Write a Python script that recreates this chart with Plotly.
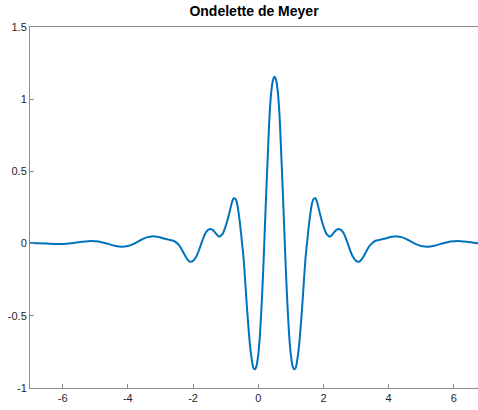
import plotly.graph_objects as go

# Sample positions (t) and wavelet values
t_vals = [
    -7.0, -6.5, -6.2, -6.0, -5.8, -5.6, -5.4, -5.2, -5.0, -4.8, -4.6, -4.4, -4.2, -4.0,
    -3.8, -3.6, -3.4, -3.25, -3.1, -3.0, -2.9, -2.8, -2.7, -2.6, -2.5, -2.4, -2.3, -2.2,
    -2.1, -2.0, -1.9, -1.8, -1.7, -1.6, -1.5, -1.4, -1.3, -1.2, -1.1, -1.0, -0.9, -0.8,
    -0.75, -0.7, -0.65, -0.6, -0.55, -0.5, -0.45, -0.4, -0.35, -0.3, -0.25, -0.2, -0.15,
    -0.1, -0.05, 0.0, 0.05, 0.1, 0.15, 0.2, 0.25, 0.3, 0.35, 0.4, 0.45, 0.5,
    0.55, 0.6, 0.65, 0.7, 0.75, 0.8, 0.85, 0.9, 0.95, 1.0, 1.05, 1.1, 1.15, 1.2, 1.25,
    1.3, 1.35, 1.4, 1.45, 1.5, 1.55, 1.6, 1.65, 1.7, 1.75,
    1.8, 1.9, 2.0, 2.1, 2.2, 2.3, 2.4, 2.5, 2.6, 2.7, 2.8, 2.9, 3.0, 3.1, 3.2, 3.3, 3.4,
    3.5, 3.6, 3.7, 3.8, 3.9, 4.0,
    4.1, 4.25, 4.4, 4.6, 4.8, 5.0, 5.2, 5.4, 5.6, 5.8, 6.0, 6.2, 6.4, 6.6, 6.8, 7.0,
]
psi_vals = [
    0.005, 0.0, -0.003, -0.003, 0.0, 0.006, 0.013, 0.017, 0.016, 0.01, -0.002, -0.015,
    -0.022, -0.017, 0.0, 0.025, 0.045, 0.05, 0.047, 0.042, 0.035, 0.03, 0.025, 0.02,
    0.005, -0.02, -0.06, -0.10, -0.125, -0.12, -0.09, -0.035, 0.03, 0.08, 0.10, 0.095,
    0.07, 0.048, 0.065, 0.12, 0.20, 0.29, 0.314, 0.31, 0.28, 0.21, 0.12, 0.01, -0.10,
    -0.26, -0.43, -0.58, -0.71, -0.80, -0.86, -0.87, -0.845, -0.77, -0.64, -0.44, -0.20,
    0.09, 0.38, 0.65, 0.90, 1.05, 1.13, 1.155,
    1.13, 1.05, 0.90, 0.65, 0.38, 0.09, -0.20, -0.44, -0.64, -0.77, -0.845, -0.87, -0.86,
    -0.80, -0.71, -0.58, -0.43, -0.26, -0.10, 0.01, 0.12, 0.21, 0.28, 0.31, 0.314,
    0.29, 0.20, 0.12, 0.065, 0.048, 0.07, 0.095, 0.10, 0.08, 0.03, -0.035, -0.09, -0.12,
    -0.125, -0.10, -0.06, -0.02, 0.005, 0.02, 0.025, 0.03, 0.035,
    0.042, 0.047, 0.05, 0.045, 0.025, 0.0, -0.017, -0.022, -0.015, -0.002, 0.01, 0.016,
    0.017, 0.013, 0.006, 0.0, -0.003,
]

x_ticks = [-6, -4, -2, 0, 2, 4, 6]
x_tick_labels = ["-6", "-4", "-2", "0", "2", "4", "6"]
y_ticks = [-1, -0.5, 0, 0.5, 1, 1.5]
y_tick_labels = ["-1", "-0.5", "0", "0.5", "1", "1.5"]

title_text = "Ondelette de Meyer"

fig = go.Figure()
fig.add_trace(go.Scatter(
    x=t_vals, y=psi_vals, mode="lines",
    line=dict(color="#0072BD", width=2, shape="spline", smoothing=0.8),
    hoverinfo="skip", showlegend=False,
))

axis_color = "#8c8c8c"
font_family = "Liberation Sans, Arial, Helvetica, sans-serif"

fig.update_layout(
    width=478, height=410,
    margin=dict(l=30, r=0, t=27, b=22),
    paper_bgcolor="white", plot_bgcolor="white",
    font=dict(family=font_family, size=11, color="#262626"),
    title=dict(
        text="<b>" + title_text + "</b>",
        x=(30 + 478) / 2 / 478, xanchor="center", xref="container",
        y=1 - 11 / 410, yanchor="middle", yref="container",
        font=dict(family=font_family, size=14, color="#000000"),
    ),
    xaxis=dict(
        range=[-7, 6.74], tickvals=x_ticks, ticktext=x_tick_labels,
        showline=True, linecolor=axis_color, linewidth=1, mirror=True,
        ticks="inside", ticklen=4, tickcolor=axis_color, tickwidth=1,
        showgrid=False, zeroline=False, fixedrange=True,
        tickfont=dict(size=11, color="#262626"),
    ),
    yaxis=dict(
        range=[-1, 1.5], tickvals=y_ticks, ticktext=y_tick_labels,
        showline=True, linecolor=axis_color, linewidth=1, mirror=False,
        ticks="inside", ticklen=4, tickcolor=axis_color, tickwidth=1,
        showgrid=False, zeroline=False, fixedrange=True,
        tickfont=dict(size=11, color="#262626"),
    ),
)

fig.write_html("out.html", config={"displayModeBar": False})
